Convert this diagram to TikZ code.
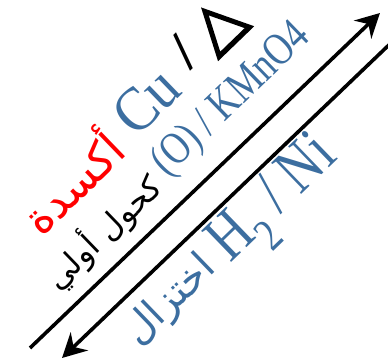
\documentclass[tikz,border=0pt]{standalone}
\usepackage{fontspec}
\setmainfont{Liberation Serif}
\newfontfamily\arabicfont[Script=Arabic]{DejaVu Sans}
\newfontfamily\symfont[FakeBold=3]{DejaVu Sans}
\TeXXeTstate=1
\usetikzlibrary{arrows.meta}
\definecolor{chemblue}{RGB}{60,110,160}
\definecolor{chemred}{RGB}{255,0,0}
\begin{document}
\begin{tikzpicture}[x=1pt,y=1pt,
  txt/.style={inner sep=0pt, rotate=44, anchor=center},
  arr/.style={line width=3.6pt, -{Stealth[length=24pt,width=25pt,inset=8pt]}}]
\useasboundingbox (0,0) rectangle (388,363);
% arrows
\coordinate (a1s) at (30,15);
\coordinate (a1e) at (380,350);
\coordinate (a2s) at (392,321);
\coordinate (a2e) at (62,5);
\draw[arr] (a1s) -- (a1e);
\draw[arr] (a2s) -- (a2e);
% row A
\node[txt, text=chemblue] (cu) at (146,262) {\fontsize{62}{62}\selectfont\scalebox{0.92}[1]{Cu}};
\node[txt] (sl) at (183,311) {\fontsize{56}{56}\selectfont\bfseries /};
\node[txt] (delta) at (219,337) {\fontsize{62}{62}\selectfont\symfont △};
\node[txt, text=chemred] (oxid) at (70,183) {\fontsize{45}{45}\selectfont\arabicfont\beginR أكسدة\endR};
% row B
\node[txt, text=chemblue] (kmno) at (232,263) {\fontsize{46}{46}\selectfont\scalebox{0.79}[1]{(O) / KMnO4}};
\node[txt] (alc) at (103,131) {\fontsize{32}{32}\selectfont\arabicfont\beginR كحول أولي\endR};
% row C
\node[txt, text=chemblue] (h2ni) at (277,160) {\fontsize{66}{66}\selectfont\scalebox{0.8}[1]{H\textsubscript{2} / Ni}};
\node[txt, text=chemblue] (red) at (171,62) {\fontsize{40}{40}\selectfont\arabicfont\beginR اختزال\endR};
\end{tikzpicture}
\end{document}
